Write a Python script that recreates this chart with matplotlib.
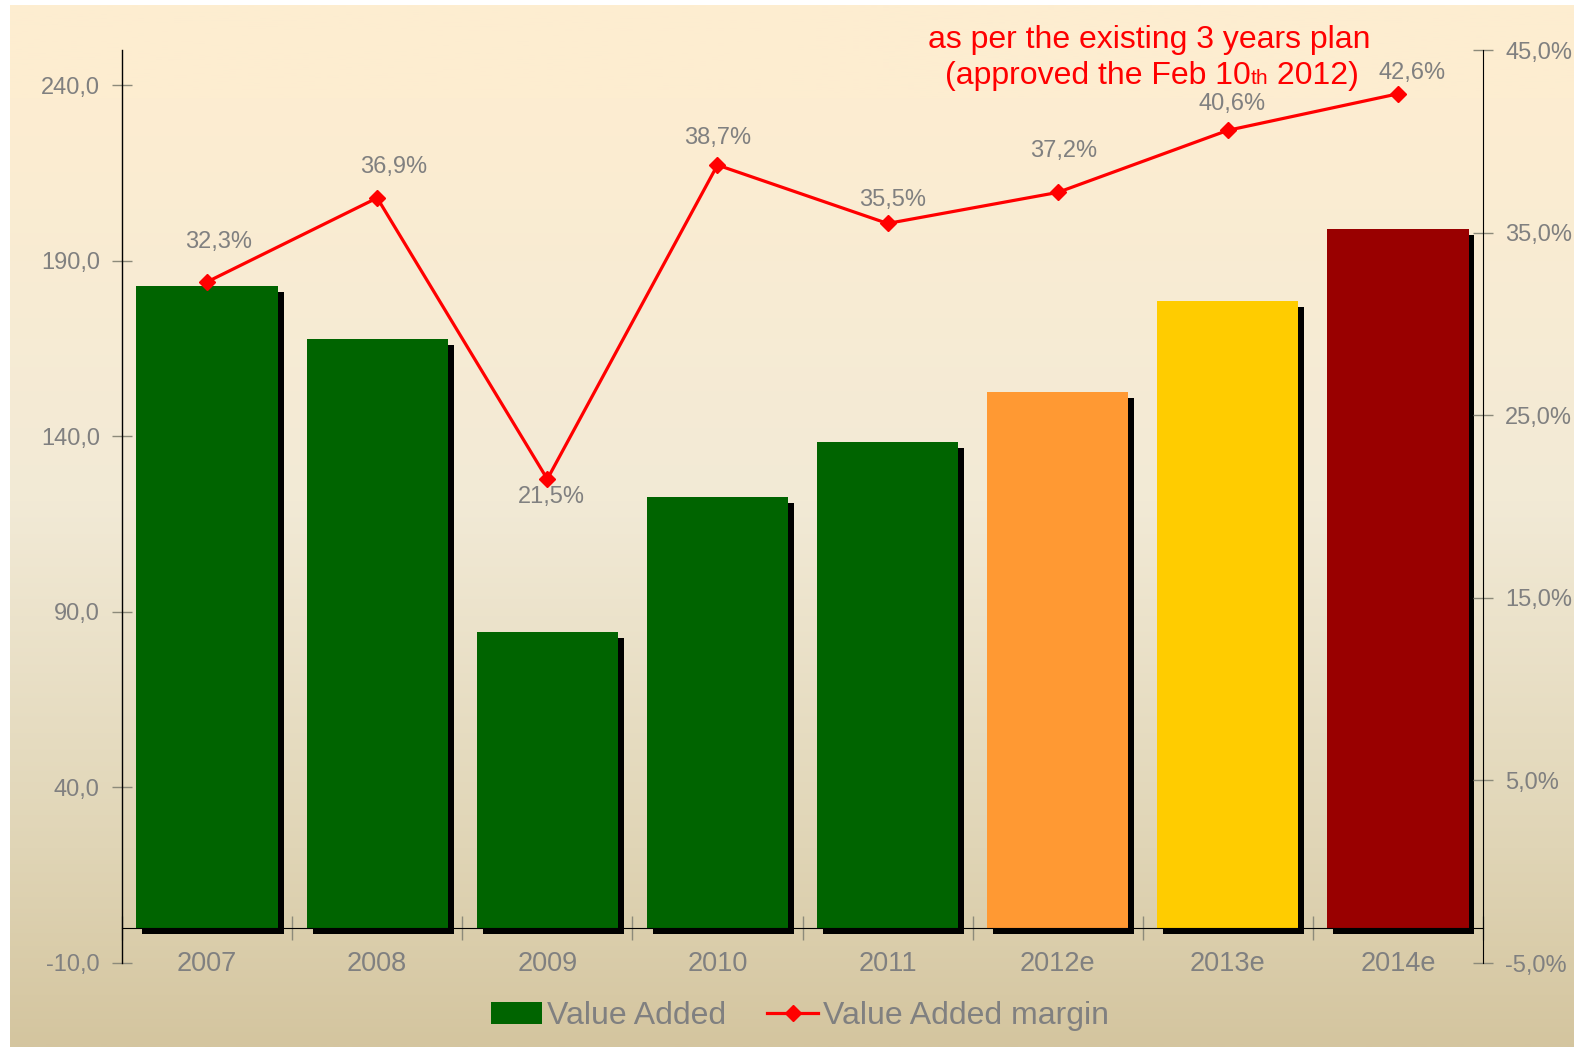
import matplotlib
matplotlib.use('Agg')
import matplotlib.pyplot as plt
import matplotlib.ticker as mticker
import numpy as np
from matplotlib.colors import LinearSegmentedColormap
from matplotlib.patches import Patch
from matplotlib.lines import Line2D
from matplotlib.offsetbox import TextArea, HPacker, AnnotationBbox

plt.rcParams['font.family'] = ['Liberation Sans', 'DejaVu Sans']

# data
years = ['2007', '2008', '2009', '2010', '2011', '2012e', '2013e', '2014e']
value_added = [182.7, 167.7, 84.2, 122.7, 138.4, 152.6, 178.5, 199.0]
margin = [32.3, 36.9, 21.5, 38.7, 35.5, 37.2, 40.6, 42.6]
bar_colors = ['#006400', '#006400', '#006400', '#006400', '#006400',
              '#FF9933', '#FFCC00', '#990000']
left_ticks = [-10, 40, 90, 140, 190, 240]
right_ticks = [-5, 5, 15, 25, 35, 45]

# label offsets (pixels) for the margin labels
label_offsets = [(12, 40), (16, 31), (4, -18), (0, 27), (5, 23), (6, 41), (4, 26), (14, 21)]

GRAY = '#808080'
TICKC = '#8c8a7a'

W, H = 1574, 1047
fig = plt.figure(figsize=(W / 100, H / 100), dpi=100)
fig.patch.set_facecolor('white')

# background gradient
cmap = LinearSegmentedColormap.from_list(
    'bg', [(0.0, '#FDEDD0'), (0.09, '#FDEDD1'), (0.475, '#F2EAD6'),
           (0.81, '#E0D5B6'), (1.0, '#D4C59F')])
bg = fig.add_axes([10 / W, 0, 1 - 10 / W, 1 - 5 / H], zorder=-10)
bg.imshow(np.linspace(0, 1, 512).reshape(-1, 1), aspect='auto', cmap=cmap,
          extent=[0, 1, 0, 1])
bg.axis('off')

ax = fig.add_axes([122 / W, 1 - 963 / H, (1483 - 122) / W, (963 - 50) / H])
ax.set_facecolor('none')
x = np.arange(len(years))

# shadows then bars
ax.bar(x + 0.035, value_added, width=0.83, bottom=-1.71, color='black', zorder=1)
ax.bar(x, value_added, width=0.83, color=bar_colors, zorder=2)

ax.set_xlim(-0.5, 7.5)
ax.set_ylim(-10, 250)
ax.set_yticks(left_ticks)
ax.yaxis.set_major_formatter(mticker.FuncFormatter(lambda v, p: f'{v:.1f}'.replace('.', ',')))
ax.set_xticks(x)
ax.set_xticklabels(years)
ax.set_xticks(np.arange(-0.5, 8, 1), minor=True)

for s in ['top', 'right']:
    ax.spines[s].set_visible(False)
ax.spines['bottom'].set_position(('data', 0))
ax.spines['bottom'].set_zorder(3)
ax.spines['left'].set_linewidth(1)

ax.tick_params(axis='y', direction='inout', length=14, width=1, color=TICKC,
               labelcolor=GRAY, labelsize=17, pad=9)
ax.tick_params(axis='x', which='major', length=0, labelcolor=GRAY, labelsize=19.5, pad=17)
ax.tick_params(axis='x', which='minor', direction='inout', length=17, width=1, color=TICKC)

ax2 = ax.twinx()
ax2.set_ylim(-5, 45)
ax2.set_yticks(right_ticks)
ax2.yaxis.set_major_formatter(mticker.FuncFormatter(lambda v, p: f'{v:.1f}%'.replace('.', ',')))
for s in ['top', 'left', 'bottom']:
    ax2.spines[s].set_visible(False)
ax2.tick_params(axis='y', direction='inout', length=14, width=1, color=TICKC,
                labelcolor=GRAY, labelsize=17, pad=9)

ax2.plot(x, margin, color='red', lw=2.3, marker='D', ms=8, zorder=5)
for i, m in enumerate(margin):
    dx, dy = label_offsets[i]
    ax2.annotate(f'{m:.1f}%'.replace('.', ','), (i, m), xytext=(dx * 0.72, dy * 0.72),
                 textcoords='offset points', ha='center', va='center',
                 color=GRAY, fontsize=17)

# red note
fig.text(1149 / W, 1 - 40 / H, 'as per the existing 3 years plan', color='red',
         fontsize=23, ha='center', va='center')
tp = dict(color='red', fontsize=23)
box = HPacker(children=[TextArea('(approved the Feb 10', textprops=tp),
                        TextArea('th', textprops=dict(color='red', fontsize=15)),
                        TextArea(' 2012)', textprops=tp)],
              align='baseline', pad=0, sep=0)
ab = AnnotationBbox(box, (1152 / W, 1 - 76 / H), xycoords='figure fraction',
                    frameon=False, box_alignment=(0.5, 0.5))
fig.add_artist(ab)

# legend
handles = [Patch(facecolor='#006400'),
           Line2D([], [], color='red', lw=2.3, marker='D', ms=8)]
fig.legend(handles, ['Value Added', 'Value Added margin'], loc='center',
           bbox_to_anchor=(800 / W, 1 - 1016 / H), ncol=2, frameon=False,
           fontsize=23, labelcolor=GRAY, handlelength=1.6, handletextpad=0.15,
           columnspacing=1.3)

fig.savefig('out.png', dpi=100)
